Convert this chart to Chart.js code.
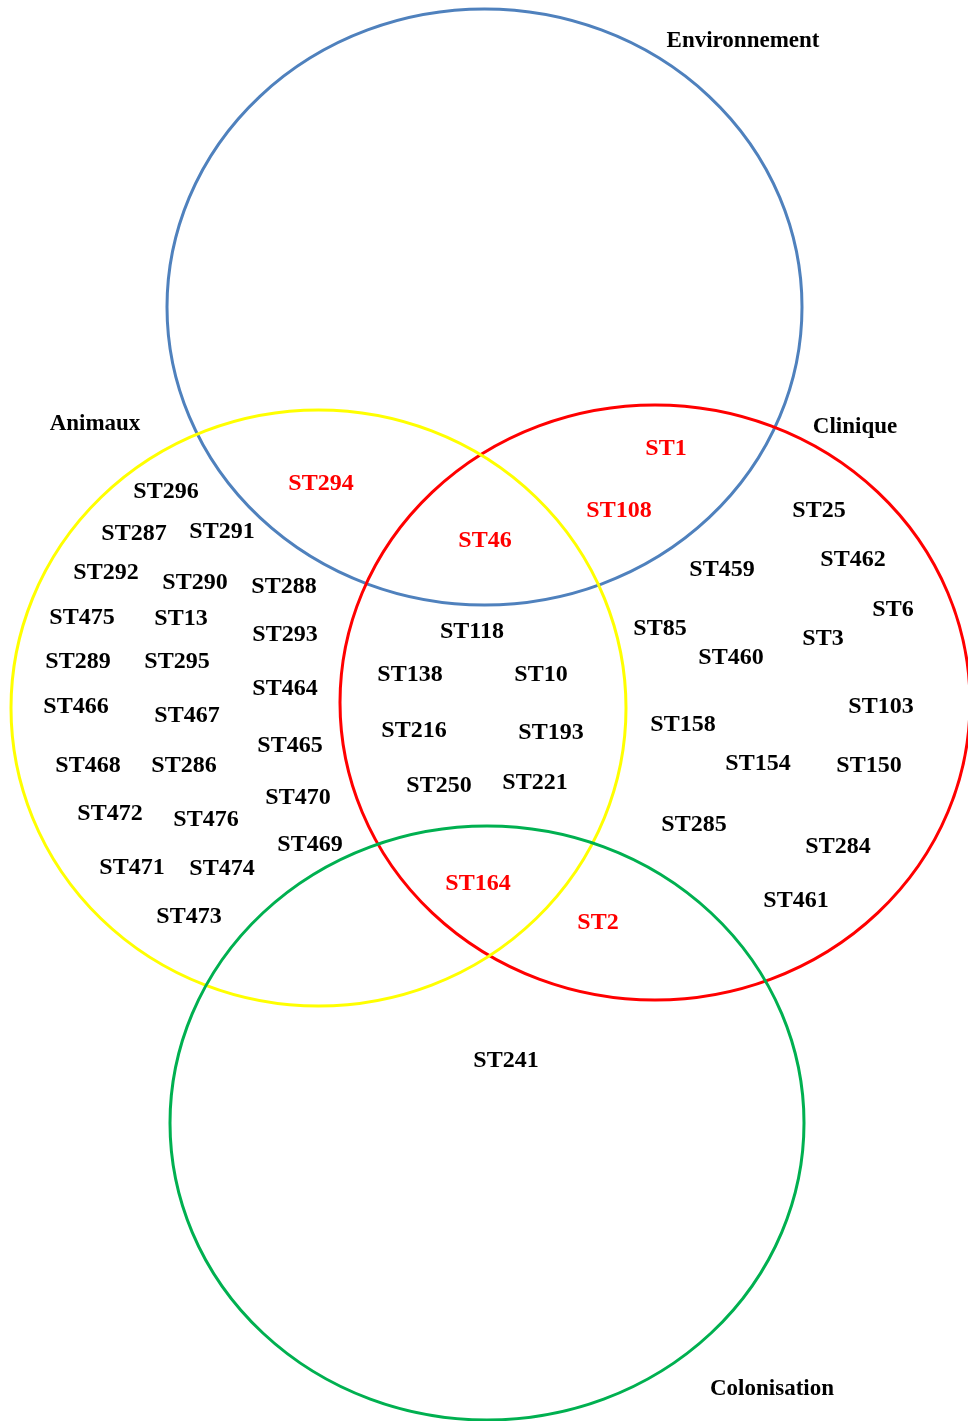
<!DOCTYPE html>
<html>
<head>
<meta charset="utf-8">
<script src="https://cdn.jsdelivr.net/npm/chart.js@4/dist/chart.umd.min.js"></script>
<style>
  html, body { margin: 0; padding: 0; background: #ffffff; }
  #wrap { width: 968px; height: 1421px; position: relative; }
</style>
</head>
<body>
<div id="wrap"><canvas id="c"></canvas></div>
<script>
// ---- Sets (ellipses) ----
const setNames = ["Environnement", "Clinique", "Animaux", "Colonisation"];
const setCx = [484.5, 655, 318.5, 487];
const setCy = [307, 702.5, 708, 1123];
const setRx = [317.5, 315, 307.5, 317];
const setRy = [298, 297.5, 298, 297];

// ---- Set titles ----
const titleLabels = ["Environnement", "Animaux", "Clinique", "Colonisation"];
const titleX = [743, 95, 855, 772];
const titleY = [41, 424, 427, 1389];

// ---- Highlighted STs (red) ----
const redLabels = ["ST1", "ST108", "ST294", "ST46", "ST164", "ST2"];
const redX = [666, 619, 321, 485, 478, 598];
const redY = [449, 511, 484, 541, 884, 923];

// ---- Other STs (black) ----
const blackLabels = [
  "ST296","ST287","ST291","ST292","ST290","ST288","ST475","ST13","ST293","ST289","ST295","ST464",
  "ST466","ST467","ST465","ST468","ST286","ST470","ST472","ST476","ST469","ST471","ST474","ST473",
  "ST118","ST138","ST10","ST216","ST193","ST250","ST221",
  "ST25","ST462","ST459","ST6","ST85","ST3","ST460","ST103","ST158","ST154","ST150","ST285","ST284","ST461",
  "ST241"
];
const blackX = [
  166,134,222,106,195,284,82,181,285,78,177,285,
  76,187,290,88,184,298,110,206,310,132,222,189,
  472,410,541,414,551,439,535,
  819,853,722,893,660,823,731,881,683,758,869,694,838,796,
  506
];
const blackY = [
  492,534,532,573,583,587,618,619,635,662,662,689,
  707,716,746,766,766,798,814,820,845,868,869,917,
  632,675,675,731,733,786,783,
  511,560,570,610,629,639,658,707,725,764,766,825,847,901,
  1061
];

const ellipseColors = ["#4F81BD", "#FF0000", "#FFFF00", "#00B050"];

function pts(xs, ys) { return xs.map((x, i) => ({ x: x, y: ys[i] })); }

const ellipsePlugin = {
  id: 'ellipses',
  beforeDatasetsDraw(chart) {
    const ctx = chart.ctx, sx = chart.scales.x, sy = chart.scales.y;
    ctx.save();
    ctx.lineWidth = 3;
    for (let i = 0; i < setNames.length; i++) {
      const px = sx.getPixelForValue(setCx[i]);
      const py = sy.getPixelForValue(setCy[i]);
      const rx = Math.abs(sx.getPixelForValue(setCx[i] + setRx[i]) - px);
      const ry = Math.abs(sy.getPixelForValue(setCy[i] + setRy[i]) - py);
      ctx.beginPath();
      ctx.ellipse(px, py, rx, ry, 0, 0, Math.PI * 2);
      ctx.strokeStyle = ellipseColors[i];
      ctx.stroke();
    }
    ctx.restore();
  }
};

const textPlugin = {
  id: 'texts',
  afterDatasetsDraw(chart) {
    const ctx = chart.ctx;
    ctx.save();
    ctx.textAlign = 'center';
    ctx.textBaseline = 'middle';
    chart.data.datasets.forEach((ds, di) => {
      const meta = chart.getDatasetMeta(di);
      ctx.fillStyle = ds.textColor;
      ctx.font = ds.textFont;
      meta.data.forEach((el, i) => {
        ctx.fillText(ds.texts[i], el.x, el.y);
      });
    });
    ctx.restore();
  }
};

new Chart(document.getElementById('c'), {
  type: 'scatter',
  data: {
    datasets: [
      { data: pts(titleX, titleY), texts: titleLabels, textColor: '#000000', textFont: 'bold 23px "Liberation Serif", "Times New Roman", serif', pointRadius: 0 },
      { data: pts(redX, redY), texts: redLabels, textColor: '#FF0000', textFont: 'bold 24px "Liberation Serif", "Times New Roman", serif', pointRadius: 0 },
      { data: pts(blackX, blackY), texts: blackLabels, textColor: '#000000', textFont: 'bold 24px "Liberation Serif", "Times New Roman", serif', pointRadius: 0 }
    ]
  },
  options: {
    responsive: true,
    maintainAspectRatio: false,
    animation: false,
    layout: { padding: 0 },
    plugins: { legend: { display: false }, tooltip: { enabled: false } },
    scales: {
      x: { type: 'linear', min: 0, max: 968, display: false },
      y: { type: 'linear', min: 0, max: 1421, reverse: true, display: false }
    }
  },
  plugins: [ellipsePlugin, textPlugin]
});
</script>
</body>
</html>
